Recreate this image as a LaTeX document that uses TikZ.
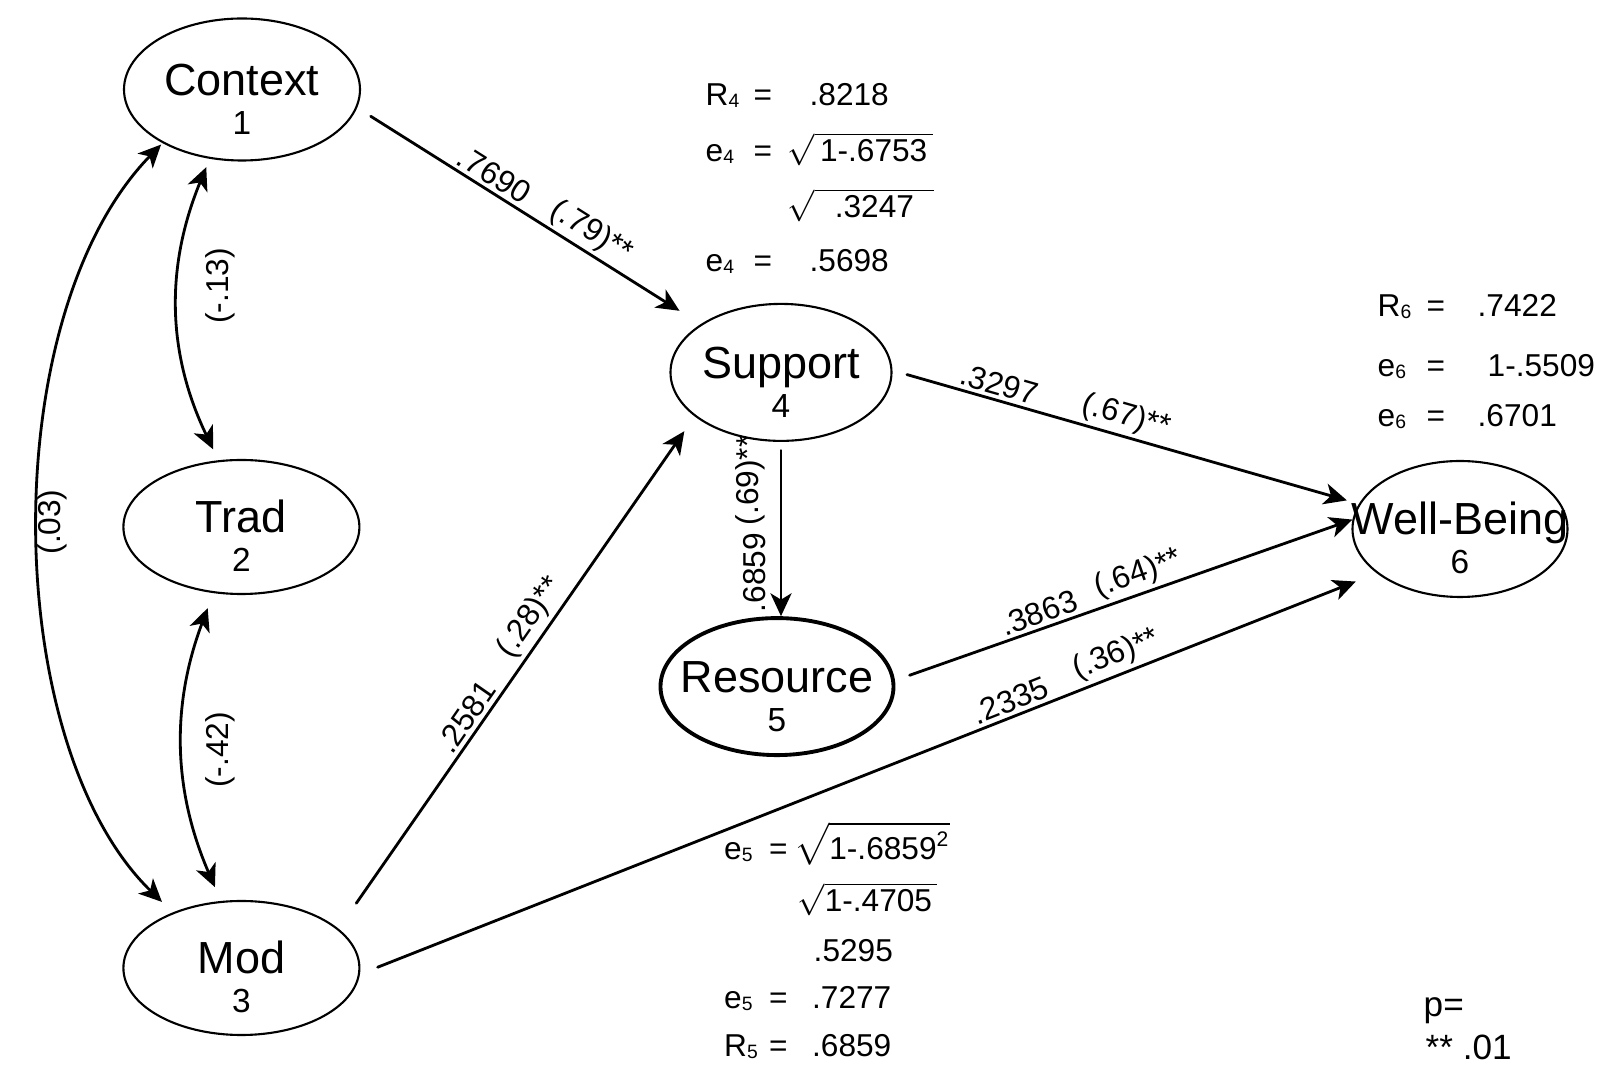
\documentclass[tikz,border=0pt]{standalone}
\usepackage{fontspec}
\setmainfont{Liberation Sans}
\usetikzlibrary{arrows.meta,shapes.geometric}

\newcommand{\subidx}[1]{\raisebox{-0.5pt}{\fontsize{5.5}{6}\selectfont #1}}
\newcommand{\latname}[2]{\raisebox{-1.7pt}[0pt][0pt]{\makebox[0pt]{%
  \begin{tabular}[t]{@{}c@{}}#1\\[-3pt]{\fontsize{9.5}{11}\selectfont #2}\end{tabular}}}}
\newcommand{\eqrow}[4][0.48cm]{\makebox[#1][l]{#2}\makebox[#3][l]{=}#4}

\begin{document}
\begin{tikzpicture}[
  >={Stealth[length=6.5pt,width=6pt,inset=1.8pt]},
  line cap=round, line join=round,
  latent/.style={ellipse, draw, line width=0.6pt, inner sep=0pt,
    minimum height=1.37cm, font=\fontsize{12.8}{14}\selectfont},
  effect/.style={->, line width=0.8pt},
  corr/.style={<->, line width=0.8pt},
  coef/.style={sloped, above, inner sep=1pt, font=\fontsize{9}{11}\selectfont},
  vcoef/.style={rotate=90, anchor=south, inner sep=4pt, font=\fontsize{9}{11}\selectfont},
  clabel/.style={rotate=90, font=\fontsize{9}{11}\selectfont},
  eqtext/.style={anchor=base west, inner sep=0pt, font=\fontsize{9}{11}\selectfont}
]
\useasboundingbox (0,0) rectangle (16.04,-10.66);

% latent variables
\node[latent, minimum width=2.36cm, minimum height=1.42cm] (ctx) at (2.42,-0.895) {\latname{Context}{1}};
\node[latent, minimum width=2.36cm, minimum height=1.34cm] (trad) at (2.414,-5.27) {\latname{Trad}{2}};
\node[latent, minimum width=2.36cm, minimum height=1.34cm] (mod) at (2.414,-9.68) {\latname{Mod}{3}};
\node[latent, minimum width=2.21cm] (sup) at (7.81,-3.724) {\latname{Support}{4}};
\node[latent, minimum width=2.33cm, line width=1.1pt] (res) at (7.77,-6.866) {\latname{Resource}{5}};
\node[latent, minimum width=2.15cm, minimum height=1.36cm] (wb) at (14.6,-5.29) {\latname{Well-Being}{6}};

% correlations
\draw[corr, shorten <=0.9mm, shorten >=1.2mm] (ctx.245) to[bend right=24] (trad.109);
\draw[corr, shorten <=1.6mm, shorten >=1.5mm] (trad.247) to[bend right=22] (mod.107);
\draw[corr, shorten <=0.2mm, shorten >=1.5mm] (ctx.214) to[bend right=45, looseness=0.8] (mod.141);
\node[clabel] (r12) at (2.20,-2.86) {(-.13)};
\node[clabel] (r23) at (2.20,-7.50) {(-.42)};
\node[clabel] (r13) at (0.52,-5.22) {(.03)};

% paths
\draw[effect, shorten <=1.6mm, shorten >=2.5mm] (ctx.-9) -- (sup.149)
  node[coef, pos=.374] {.7690} node[coef, pos=.651] {(.79)**};
\draw[effect, shorten <=3.1mm, shorten >=1.8mm] (mod.22) -- (sup.207)
  node[coef, pos=.396] {.2581} node[coef, pos=.585] {(.28)**};
\draw[effect, shorten <=0.85mm] (sup.south) -- (sup.south |- res.north)
  node[vcoef, pos=.22] {(.69)**} node[vcoef, pos=.75] {.6859};
\draw[effect, shorten <=1.5mm, shorten >=1.25mm] (sup.1) -- (wb.166)
  node[coef, pos=.22] {.3297} node[coef, pos=.489] {(.67)**};
\draw[effect, shorten <=1.55mm] (res.3) -- (wb.175)
  node[coef, pos=.326] {.3863} node[coef, pos=.546] {(.64)**};
\draw[effect, shorten <=1.9mm, shorten >=2.25mm] (mod.-3) -- (wb.208)
  node[coef, pos=.6455] {.2335} node[coef, pos=.751] {(.36)**};

% R and e for Support
\node[eqtext] (r4) at (7.05,-1.06) {\eqrow{R\subidx4}{0.56cm}{.8218}};
\node[eqtext] (e4a) at (7.05,-1.62) {\eqrow{e\subidx4}{0.34cm}{$\sqrt{\mbox{\,1-.6753\,}}$}};
\node[eqtext] (e4b) at (7.87,-2.18) {$\sqrt{\mbox{\makebox[33.9pt][c]{.3247}}}$};
\node[eqtext] (e4c) at (7.05,-2.72) {\eqrow{e\subidx4}{0.56cm}{.5698}};

% R and e for Well-Being
\node[eqtext] (r6) at (13.77,-3.17) {\eqrow[0.49cm]{R\subidx6}{0.51cm}{.7422}};
\node[eqtext] (e6a) at (13.77,-3.77) {\eqrow[0.49cm]{e\subidx6}{0.61cm}{1-.5509}};
\node[eqtext] (e6b) at (13.77,-4.27) {\eqrow[0.49cm]{e\subidx6}{0.51cm}{.6701}};

% R and e for Resource
\node[eqtext] (e5a) at (7.235,-8.60) {\eqrow[0.45cm]{e\subidx5}{0.25cm}{$\sqrt{\mbox{1-.6859\textsuperscript{2}}}$}};
\node[eqtext] (e5b) at (7.97,-9.12) {$\sqrt{\mbox{1-.4705\,}}$};
\node[eqtext] (e5c) at (8.13,-9.62) {.5295};
\node[eqtext] (e5d) at (7.235,-10.09) {\eqrow[0.45cm]{e\subidx5}{0.43cm}{.7277}};
\node[eqtext] (r5) at (7.235,-10.57) {\eqrow[0.45cm]{R\subidx5}{0.43cm}{.6859}};

% significance
\node[eqtext, font=\fontsize{10}{12}\selectfont] (pval) at (14.23,-10.17) {p=};
\node[eqtext, font=\fontsize{10}{12}\selectfont] (sig) at (14.25,-10.60) {** .01};
\end{tikzpicture}
\end{document}
